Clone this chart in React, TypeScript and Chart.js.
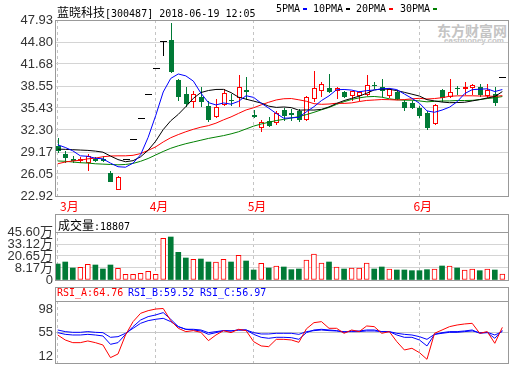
import React, { useEffect, useRef } from 'react';
import { Chart, registerables } from 'chart.js';

Chart.register(...registerables);

// ---- data ----
const opens = [29.96, 28.87, 28.20, 28.10, 27.77, 28.20, 28.15, 26.12, 23.93, 28.20,
  31.00, 34.00, 37.40, 41.10, 45.00, 45.08, 39.40, 37.40, 36.36, 37.02,
  35.70, 34.23, 35.98, 36.60, 37.02, 37.95, 34.50, 32.75, 33.60, 33.38,
  35.13, 34.65, 34.94, 33.85, 36.84, 37.95, 38.26, 38.00, 37.73, 37.30,
  37.30, 37.40, 38.75, 38.44, 37.30, 37.73, 36.22, 36.20, 35.41, 34.74,
  33.24, 37.97, 37.16, 38.30, 38.26, 38.36, 38.44, 37.30, 37.40, 39.90];
const highs = [31.10, 29.26, 28.63, 28.40, 28.87, 28.40, 28.60, 26.50, 25.70, 28.20,
  31.00, 34.00, 37.40, 41.10, 45.00, 47.46, 39.60, 38.36, 37.87, 38.44,
  36.45, 36.69, 38.11, 37.40, 40.10, 39.78, 35.10, 33.70, 34.10, 35.00,
  35.37, 35.30, 35.27, 37.16, 40.63, 39.07, 40.25, 38.40, 37.90, 37.90,
  37.80, 40.10, 39.10, 39.55, 38.30, 38.00, 36.55, 36.40, 35.74, 35.00,
  35.95, 38.11, 39.55, 38.60, 39.07, 38.90, 38.80, 38.90, 38.36, 39.90];
const lows = [29.15, 27.69, 27.69, 27.70, 26.64, 27.90, 27.90, 25.00, 23.90, 28.20,
  31.00, 34.00, 37.40, 41.10, 42.90, 40.60, 36.55, 35.74, 35.60, 35.74,
  33.52, 34.09, 35.90, 35.90, 35.74, 36.69, 34.20, 32.10, 32.90, 33.10,
  33.70, 33.70, 33.52, 33.70, 36.37, 37.16, 37.64, 36.90, 37.00, 36.60,
  36.50, 37.30, 38.30, 37.16, 36.93, 36.70, 35.13, 35.40, 34.09, 32.43,
  33.10, 36.45, 37.00, 37.40, 37.40, 37.40, 37.20, 36.93, 35.90, 39.90];
const closes = [29.48, 28.49, 28.10, 28.20, 28.54, 28.05, 28.10, 25.07, 25.64, 28.20,
  31.00, 34.00, 37.40, 41.10, 45.00, 40.63, 37.16, 36.08, 37.40, 36.45,
  33.85, 35.51, 37.50, 36.55, 38.44, 37.87, 34.30, 33.38, 33.04, 34.66,
  34.46, 34.55, 33.85, 36.93, 38.26, 38.83, 37.87, 38.20, 37.16, 37.78,
  37.64, 38.69, 38.65, 37.97, 38.11, 36.80, 35.51, 35.60, 34.46, 32.67,
  35.88, 37.02, 37.73, 38.26, 38.44, 38.69, 37.40, 37.97, 36.30, 39.90];

const ma5 = [30.20, 29.82, 29.34, 28.63, 28.56, 28.28, 28.20, 27.59, 27.08, 27.01,
  27.60, 28.78, 31.25, 34.34, 37.70, 39.63, 40.26, 39.99, 39.25, 37.54,
  36.19, 35.86, 36.14, 35.97, 36.37, 37.17, 36.93, 36.11, 35.41, 34.65,
  33.97, 34.02, 34.11, 34.89, 35.61, 36.48, 37.15, 38.02, 38.06, 37.97,
  37.73, 37.89, 37.98, 38.15, 38.21, 38.04, 37.41, 36.80, 36.10, 35.01,
  34.82, 35.13, 35.55, 36.31, 37.47, 38.03, 38.10, 38.15, 37.76, 38.05];
const ma10 = [29.58, 29.55, 29.50, 29.45, 29.40, 29.30, 29.15, 28.60, 28.10, 27.79,
  27.94, 28.49, 29.42, 30.71, 32.36, 33.61, 34.52, 35.62, 36.80, 37.62,
  37.91, 38.06, 38.07, 37.61, 36.96, 36.68, 36.40, 36.13, 35.69, 35.51,
  35.57, 35.48, 35.11, 35.15, 35.13, 35.23, 35.58, 36.07, 36.48, 36.79,
  37.11, 37.52, 38.00, 38.11, 38.09, 37.89, 37.65, 37.39, 37.12, 36.61,
  36.43, 36.27, 36.18, 36.20, 36.24, 36.43, 36.62, 36.85, 37.04, 37.76];
const ma20 = [27.50, 27.75, 27.90, 28.00, 28.20, 28.30, 28.50, 28.60, 28.63, 28.63,
  28.70, 28.95, 29.40, 29.90, 30.60, 31.20, 31.65, 32.05, 32.40, 32.70,
  32.92, 33.27, 33.74, 34.16, 34.66, 35.15, 35.46, 35.87, 36.24, 36.57,
  36.74, 36.77, 36.59, 36.38, 36.04, 35.95, 35.99, 36.10, 36.08, 36.15,
  36.34, 36.50, 36.56, 36.63, 36.61, 36.56, 36.62, 36.73, 36.80, 36.70,
  36.77, 36.89, 37.09, 37.15, 37.16, 37.16, 37.13, 37.12, 37.08, 37.18];
const ma30 = [27.90, 27.85, 27.75, 27.65, 27.60, 27.50, 27.45, 27.40, 27.35, 27.40,
  27.55, 27.85, 28.25, 28.75, 29.25, 29.70, 30.05, 30.35, 30.60, 30.85,
  31.10, 31.30, 31.50, 31.75, 32.05, 32.45, 32.85, 33.15, 33.40, 33.64,
  33.81, 34.01, 34.20, 34.49, 34.81, 35.17, 35.50, 35.94, 36.32, 36.64,
  36.86, 37.02, 37.06, 36.96, 36.73, 36.60, 36.54, 36.53, 36.43, 36.30,
  36.37, 36.42, 36.43, 36.49, 36.49, 36.51, 36.62, 36.77, 36.88, 37.05];

// volume in 万手
const volumes = [12.33, 14.40, 8.17, 8.86, 11.98, 11.29, 7.13, 11.29, 7.82, 1.58,
  1.58, 2.62, 4.70, 1.58, 39.00, 40.40, 24.45, 18.56, 17.18, 17.52,
  14.40, 14.40, 17.18, 14.40, 21.34, 15.44, 6.09, 13.02, 8.17, 10.25,
  9.21, 6.43, 7.13, 16.48, 22.72, 13.37, 14.40, 9.21, 7.13, 8.17,
  8.17, 13.37, 7.13, 9.21, 7.13, 6.09, 6.09, 5.39, 5.39, 6.43,
  7.13, 10.25, 10.25, 8.17, 6.09, 7.13, 5.39, 7.13, 6.09, 1.88];

const rsiA = [50.7, 41.5, 36.6, 36.6, 39.7, 36.6, 32.3, 9.0, 15.7, 50.7,
  75.3, 90.6, 95.5, 98.5, 99.5, 77.1, 63.0, 56.9, 58.7, 55.6,
  40.3, 50.7, 58.7, 55.0, 61.2, 58.7, 38.4, 30.5, 29.2, 42.7,
  42.7, 41.5, 37.2, 62.0, 73.4, 75.3, 63.0, 63.0, 53.8, 59.9,
  56.9, 67.3, 66.1, 53.8, 56.9, 38.4, 23.1, 26.2, 18.2, 5.9,
  53.8, 59.9, 66.1, 69.1, 71.0, 72.2, 53.8, 56.9, 35.4, 64.76];
const rsiB = [55.0, 51.9, 50.7, 50.7, 51.9, 50.7, 48.9, 33.5, 36.6, 51.9,
  66.1, 78.3, 84.5, 87.6, 91.9, 79.6, 66.1, 61.2, 59.9, 58.1,
  51.9, 55.0, 58.7, 58.1, 59.9, 59.9, 51.9, 46.4, 44.6, 46.4,
  46.4, 45.8, 42.7, 55.0, 59.9, 61.2, 59.9, 58.7, 55.6, 58.1,
  58.1, 59.9, 59.9, 56.9, 56.9, 50.7, 46.4, 46.4, 41.5, 30.5,
  51.9, 55.0, 56.9, 56.9, 58.1, 59.9, 53.8, 55.0, 44.6, 59.52];
const rsiC = [59.9, 56.9, 55.6, 55.6, 56.9, 55.6, 55.0, 46.4, 47.6, 53.8,
  63.0, 72.2, 77.1, 79.6, 81.4, 75.3, 66.1, 61.2, 61.2, 59.9,
  55.0, 56.9, 58.7, 58.1, 59.9, 59.9, 55.0, 52.6, 52.6, 53.8,
  53.8, 53.8, 51.9, 56.9, 58.7, 59.9, 58.7, 58.1, 56.9, 56.9,
  56.9, 58.1, 58.1, 56.9, 56.9, 53.8, 51.9, 50.7, 47.6, 42.7,
  51.9, 53.8, 55.6, 55.6, 56.9, 58.1, 55.0, 55.6, 50.7, 56.97];

const monthStarts = [0, 13, 26, 48];
const monthLabels = ['3月', '4月', '5月', '6月'];
const priceTicks = [47.93, 44.80, 41.68, 38.55, 35.43, 32.30, 29.17, 26.05, 22.92];
const volTicks = [45.60, 33.12, 20.65, 8.17, -4.31];
const volTickLabels = ['45.60万', '33.12万', '20.65万', '8.17万', '0'];
const rsiTicks = [98, 55, 12];

// ---- styles ----
const RED = '#ff0000';
const GREEN = '#007a36';
const BLUE = '#0000ff';
const BLACK = '#000000';
const MA30C = '#008000';
const BORDER = '#999999';
const GRID = '#d4d4d4';
const VGRID = '#c4c4c4';
const X_MIN = -0.226;
const X_MAX = 59.75;
const TICK_FONT = { family: '"Liberation Sans", "Noto Sans CJK SC", sans-serif', size: 13 };
const MONO = '"DejaVu Sans Mono", monospace';
const CJK = '"Noto Sans CJK SC", sans-serif';

function xAxis(): any {
  return {
    type: 'linear',
    min: X_MIN,
    max: X_MAX,
    offset: false,
    afterBuildTicks: (s: any) => { s.ticks = monthStarts.map((v) => ({ value: v })); },
    afterFit: (s: any) => { s.height = 0; s.paddingLeft = 0; s.paddingRight = 0; },
    ticks: { display: false },
    grid: { color: VGRID, drawTicks: false, lineWidth: 1, offset: false },
    border: { display: false, dash: [3, 3] },
  };
}

function yAxis(min: number, max: number, ticks: number[], label: (v: any, i: number) => string, gridColor: any): any {
  return {
    type: 'linear',
    position: 'left',
    min,
    max,
    afterBuildTicks: (s: any) => { s.ticks = ticks.map((v) => ({ value: v })); },
    afterFit: (s: any) => { s.width = 56; s.paddingTop = 0; s.paddingBottom = 0; },
    ticks: { callback: label, font: TICK_FONT, color: '#333333', padding: 3, autoSkip: false },
    grid: { color: gridColor, drawTicks: false },
    border: { display: false },
  };
}

function lineDs(arr: number[], color: string): any {
  return {
    type: 'line',
    data: arr.map((v, i) => ({ x: i, y: v })),
    borderColor: color,
    borderWidth: 1,
    pointRadius: 0,
    tension: 0,
    fill: false,
  };
}

const candlePlugin = {
  id: 'candles',
  beforeDatasetsDraw(chart: any) {
    const { ctx, scales } = chart;
    const x = scales.x, y = scales.y;
    ctx.save();
    for (let i = 0; i < closes.length; i++) {
      const o = opens[i], c = closes[i], h = highs[i], l = lows[i];
      const cx = Math.round(x.getPixelForValue(i));
      const yo = Math.round(y.getPixelForValue(o));
      const yc = Math.round(y.getPixelForValue(c));
      const yh = Math.round(y.getPixelForValue(h));
      const yl = Math.round(y.getPixelForValue(l));
      if (o === c) {
        ctx.fillStyle = BLACK;
        ctx.fillRect(cx, yh, 1, yl - yh + 1);
        ctx.fillRect(cx - 3, yc, 7, 1);
      } else if (c > o) {
        const top = yc, bot = yo;
        ctx.fillStyle = RED;
        if (top > yh) ctx.fillRect(cx, yh, 1, top - yh);
        if (yl > bot) ctx.fillRect(cx, bot + 1, 1, yl - bot);
        ctx.fillStyle = '#ffffff';
        ctx.fillRect(cx - 2, top, 5, bot - top + 1);
        ctx.strokeStyle = RED;
        ctx.lineWidth = 1;
        ctx.strokeRect(cx - 2 + 0.5, top + 0.5, 4, Math.max(bot - top, 0));
      } else {
        ctx.fillStyle = GREEN;
        ctx.fillRect(cx, yh, 1, yl - yh + 1);
        ctx.fillRect(cx - 2, yo, 5, yc - yo + 1);
      }
    }
    ctx.restore();
  },
};

function framePlugin(titleH: number) {
  return {
    id: 'frame',
    afterDraw(chart: any) {
      const { ctx, chartArea } = chart;
      const { left, right, top, bottom } = chartArea;
      ctx.save();
      ctx.strokeStyle = BORDER;
      ctx.lineWidth = 1;
      const L = left - 0.5, R = right + 0.5;
      ctx.strokeRect(L, top - titleH + 0.5, R - L, bottom - top + titleH);
      if (titleH > 0) {
        ctx.beginPath();
        ctx.moveTo(L, top + 0.5);
        ctx.lineTo(R, top + 0.5);
        ctx.stroke();
      }
      ctx.restore();
    },
  };
}

const monthPlugin = {
  id: 'months',
  afterDraw(chart: any) {
    const { ctx, scales, chartArea } = chart;
    ctx.save();
    ctx.fillStyle = RED;
    ctx.font = '12px "Noto Sans CJK SC", sans-serif';
    ctx.textBaseline = 'middle';
    ctx.textAlign = 'left';
    monthStarts.forEach((m, k) => {
      const px = scales.x.getPixelForValue(m);
      ctx.fillText(monthLabels[k], Math.max(px - 6, 60), chartArea.bottom + 10);
    });
    ctx.restore();
  },
};

const baseOptions = (padding: any) => ({
  animation: false,
  responsive: false,
  maintainAspectRatio: false,
  events: [],
  layout: { padding },
  plugins: { legend: { display: false }, tooltip: { enabled: false } },
});

export default function App() {
  const mainRef = useRef<HTMLCanvasElement>(null);
  const volRef = useRef<HTMLCanvasElement>(null);
  const rsiRef = useRef<HTMLCanvasElement>(null);

  useEffect(() => {
    const isUp = (i: number) => closes[i] >= opens[i];
    const main = new Chart(mainRef.current as HTMLCanvasElement, {
      type: 'line',
      data: { datasets: [lineDs(ma5, BLUE), lineDs(ma10, BLACK), lineDs(ma20, RED), lineDs(ma30, MA30C)] },
      options: {
        ...baseOptions({ left: 0, right: 12, top: 20, bottom: 18 }),
        scales: {
          x: xAxis(),
          y: yAxis(22.92, 47.93, priceTicks, (v: any) => Number(v).toFixed(2), GRID),
        },
      } as any,
      plugins: [candlePlugin, framePlugin(0), monthPlugin],
    } as any);

    const vol = new Chart(volRef.current as HTMLCanvasElement, {
      type: 'bar',
      data: {
        datasets: [{
          data: volumes.map((v, i) => ({ x: i, y: v })),
          base: -4.31,
          barThickness: 5,
          backgroundColor: volumes.map((_, i) => (isUp(i) ? '#ffffff' : GREEN)),
          borderColor: volumes.map((_, i) => (isUp(i) ? RED : GREEN)),
          borderWidth: volumes.map((_, i) => (isUp(i) ? 1 : 0)),
          borderSkipped: false,
        }],
      },
      options: {
        ...baseOptions({ left: 0, right: 12, top: 18, bottom: 7 }),
        scales: {
          x: xAxis(),
          y: yAxis(-4.31, 45.6, volTicks, (_v: any, i: number) => volTickLabels[i], GRID),
        },
      } as any,
      plugins: [framePlugin(18)],
    } as any);

    const rsi = new Chart(rsiRef.current as HTMLCanvasElement, {
      type: 'line',
      data: { datasets: [lineDs(rsiA, RED), lineDs(rsiB, BLUE), lineDs(rsiC, BLUE)] },
      options: {
        ...baseOptions({ left: 0, right: 12, top: 16, bottom: 2 }),
        scales: {
          x: xAxis(),
          y: yAxis(-0.9, 113.3, rsiTicks, (v: any) => String(v),
            (c: any) => (c.tick && c.tick.value === 55 ? '#c8c8c8' : 'rgba(0,0,0,0)')),
        },
      } as any,
      plugins: [framePlugin(14)],
    } as any);

    return () => { main.destroy(); vol.destroy(); rsi.destroy(); };
  }, []);

  const abs = (left: number, top: number, extra: any = {}): any => ({
    position: 'absolute', left, top, whiteSpace: 'nowrap', lineHeight: '14px', ...extra,
  });
  const dash = (color: string): any => ({
    display: 'inline-block', width: 4, height: 2, background: color, marginLeft: 3, verticalAlign: 'middle',
  });

  return (
    <div style={{ position: 'fixed', left: 0, top: 0, width: 520, height: 365, overflow: 'hidden', background: '#ffffff' }}>
      <div style={abs(437, 20, { font: 'bold 14px ' + CJK, color: '#c4c4c4', lineHeight: '17px' })}>东方财富网</div>
      <div style={abs(444, 36, { font: 'bold 8px "Liberation Sans", sans-serif', color: '#c4c4c4', lineHeight: '9px' })}>eastmoney.com</div>
      <canvas ref={mainRef} width={520} height={214} style={{ position: 'absolute', left: 0, top: 0 }} />
      <canvas ref={volRef} width={520} height={73} style={{ position: 'absolute', left: 0, top: 214 }} />
      <canvas ref={rsiRef} width={520} height={80} style={{ position: 'absolute', left: 0, top: 285 }} />
      <div style={abs(57, 3, { color: '#000' })}>
        <span style={{ font: '12px ' + CJK }}>蓝晓科技</span>
        <span style={{ font: '10px ' + MONO }}>[300487] 2018-06-19 12:05</span>
      </div>
      <div style={abs(276, 3, { font: '10px ' + MONO, color: '#000' })}>5PMA<span style={dash(BLUE)} /></div>
      <div style={abs(313, 3, { font: '10px ' + MONO, color: '#000' })}>10PMA<span style={dash(BLACK)} /></div>
      <div style={abs(356, 3, { font: '10px ' + MONO, color: '#000' })}>20PMA<span style={dash(RED)} /></div>
      <div style={abs(400, 3, { font: '10px ' + MONO, color: '#000' })}>30PMA<span style={dash(MA30C)} /></div>
      <div style={abs(58, 216, { color: '#000' })}>
        <span style={{ font: '12px ' + CJK }}>成交量</span>
        <span style={{ font: '10px ' + MONO }}>:18807</span>
      </div>
      <div style={abs(57, 287, { font: '10px ' + MONO, color: RED })}>RSI_A:64.76</div>
      <div style={abs(128, 287, { font: '10px ' + MONO, color: BLUE })}>RSI_B:59.52</div>
      <div style={abs(200, 287, { font: '10px ' + MONO, color: BLUE })}>RSI_C:56.97</div>
    </div>
  );
}
